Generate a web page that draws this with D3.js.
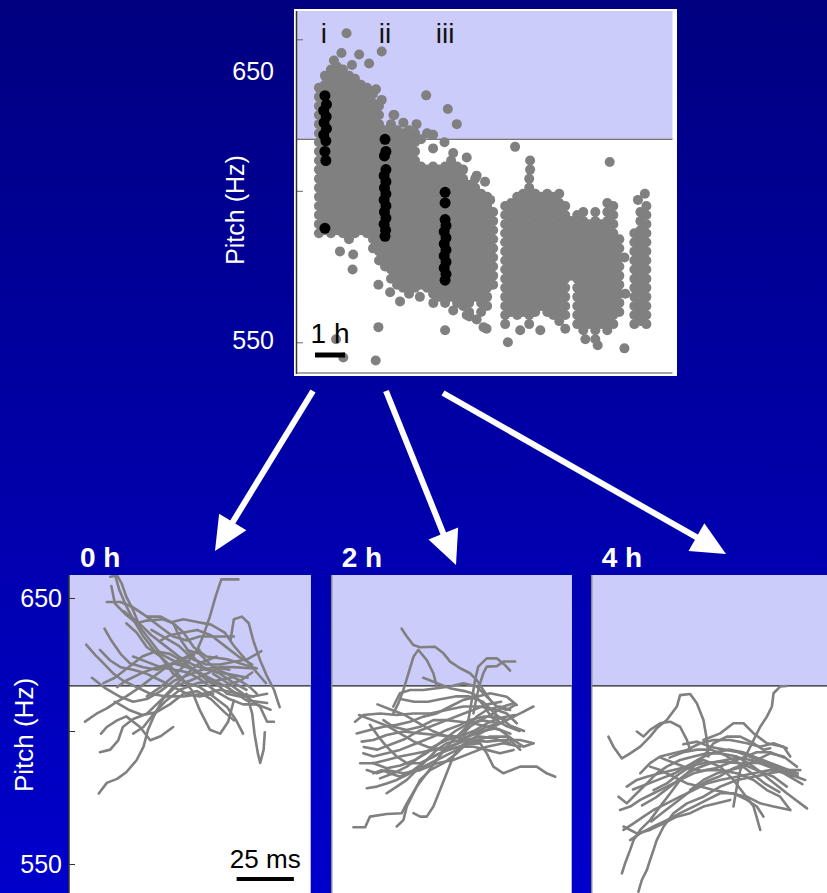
<!DOCTYPE html>
<html>
<head>
<meta charset="utf-8">
<script src="https://cdn.jsdelivr.net/npm/d3@7"></script>
<style>
  html, body { margin: 0; padding: 0; overflow: hidden; background: #000080; }
  text { font-family: "Liberation Sans", Arial, sans-serif; }
</style>
</head>
<body>
<script>
// ---------- Pitch over time (top scatter) ----------
// song pitch (Hz) per recording time (hours), grouped by time column
const dotColumns = [
  [-0.2, [634,631,628,625,622,619,616,613,610,607,604,601,598,595,592,589,586]],
  [0.0,  [638,635,632,629,626,623,620,617,614,611,608,605,602,599,596,593,590,587]],
  [0.2,  [640,637,634,631,628,625,622,619,616,613,610,607,604,601,598,595,592,589,586]],
  [0.4,  [641,638,635,632,629,626,623,620,617,614,611,608,605,602,599,596,593,590,587]],
  [0.6,  [640,637,634,631,628,625,622,619,616,613,610,607,604,601,598,595,592,589,586]],
  [0.8,  [638,635,632,629,626,623,620,617,614,611,608,605,602,599,596,593,590,587,584]],
  [1.0,  [637,634,631,628,625,622,619,616,613,610,607,604,601,598,595,592,589,586]],
  [1.2,  [635,632,629,626,623,620,617,614,611,608,605,602,599,596,593,590,587]],
  [1.4,  [634,631,628,625,622,619,616,613,610,607,604,601,598,595,592,589,586]],
  [1.6,  [632,629,626,623,620,617,614,611,608,605,602,599,596,593,590,587,584,581]],
  [1.8,  [628,625,622,619,616,613,610,607,604,601,598,595,592,589,586,583,580,577]],
  [2.0,  [620,617,614,611,608,605,602,599,596,593,590,587,584,581,578,575]],
  [2.2,  [622,619,616,613,610,607,604,601,598,595,592,589,586,583,580,577,574,571]],
  [2.4,  [620,617,614,611,608,605,602,599,596,593,590,587,584,581,578,575,572,569]],
  [2.6,  [619,616,613,610,607,604,601,598,595,592,589,586,583,580,577,574,571,568]],
  [2.8,  [620,617,614,611,608,605,602,599,596,593,590,587,584,581,578,575,572,569,566]],
  [3.0,  [619,616,613,610,607,604,601,598,595,592,589,586,583,580,577,574,571,568]],
  [3.2,  [617,608,605,602,599,596,593,590,587,584,581,578,575,572,569]],
  [3.4,  [619,607,604,601,598,595,592,589,586,583,580,577,574,571,568]],
  [3.6,  [614,608,605,602,599,596,593,590,587,584,581,578,575,572,569,566]],
  [3.8,  [607,604,601,598,595,592,589,586,583,580,577,574,571,568,565]],
  [4.0,  [608,605,602,599,596,593,590,587,584,581,578,575,572,569,566,563]],
  [4.2,  [610,607,604,601,598,595,592,589,586,583,580,577,574,571,568,565]],
  [4.4,  [608,605,602,599,596,593,590,587,584,581,578,575,572,569,566,563]],
  [4.6,  [607,604,601,598,595,592,589,586,583,580,577,574,571,568,565,562]],
  [4.8,  [602,599,596,593,590,587,584,581,578,575,572,569,566,563,560]],
  [5.0,  [604,601,598,595,592,589,586,583,580,577,574,571,568,565]],
  [5.2,  [599,596,593,590,587,584,581,578,575,572,569,566,563,560]],
  [5.4,  [598,595,592,589,586,583,580,577,574,571,568,565,562]],
  [5.6,  [593,590,587,584,581,578,575,572,569]],
  [6.0,  [595,592,589,586,583,580,577,574,571,568,565,562,559,556]],
  [6.2,  [596,593,590,587,584,581,578,575,572,569,566,563,560]],
  [6.4,  [598,595,592,589,586,583,580,577,574,571,568,565,562,559]],
  [6.6,  [599,596,593,590,587,584,581,578,575,572,569,566,563,560]],
  [6.8,  [604,601,598,595,592,589,586,583,580,577,574,571,568,565,562,559,556]],
  [7.0,  [599,596,593,590,587,584,581,578,575,572,569,566,563,560]],
  [7.2,  [598,595,592,589,586,583,580,577,574,571,568,565,562]],
  [7.4,  [599,596,593,590,587,584,581,578,575,572,569,566,563,560]],
  [7.6,  [598,595,592,589,586,583,580,577,574,571,568,565,562,559]],
  [7.8,  [599,596,593,590,587,584,581,578,575,572,569,566,563,560,557]],
  [8.0,  [595,592,589,586,583,580,577,574,571,568,565,562,559]],
  [8.2,  [590,587,584,581,578,575,572]],
  [8.4,  [592,589,586,583,580,577,574,571,568,565,562,559,556]],
  [8.6,  [593,590,587,584,581,578,575,572,569,566,563,560,557,554]],
  [8.8,  [589,586,583,580,577,574,571,568,565,562,559,556]],
  [9.0,  [593,590,587,584,581,578,575,572,569,566,563,560,557,554,551]],
  [9.2,  [589,586,583,580,577,574,571,568,565,562,559,556]],
  [9.4,  [596,593,590,587,584,581,578,575,572,569,566,563,560,557,554]],
  [9.6,  [595,592,589,586,583,580,577,574,571,568,565,562,559,556]],
  [9.8,  [584,581,578,575,572,569,566,563,560]],
  [10.3, [586,583,580,577,574,571,568,565,562,559,556]],
  [10.5, [593,590,587,584,581,578,575,572,569,566,563,560,557]],
  [10.7, [595,592,589,586,583,580,577,574,571,568,565,562,559,556]]
];

// isolated songs and edge songs [hours, Hz]
const strayDots = [
  [0.72,652],[1.14,645],[1.89,646],[1.47,642],[3.37,631.5],[4.09,627],[4.39,622],
  [6.33,614.5],[6.83,610],[9.48,609.5],[10.65,599],[10.42,597],[1.78,555],[4.0,554],
  [1.69,544],[0.61,545],[0.37,551],[9.97,548],[6.09,550],[9.08,549],[8.67,551],
  [0.92,574],[0.5,580],[0.94,579],[1.78,569],[2.17,566.5],[2.5,563.5],[4.81,558.5],
  [5.28,555],[9.97,578],[1.7,633.5],[1.89,630],[2.31,625],[2.61,622.5],[3.55,618.5],
  [3.98,616],[6.83,607],[10.0,566],[8.0,554.5],[7.17,554],[6.5,554],
  [1.61,633],[1.36,630.5],[2.28,625],[3.05,622],[3.6,618.5],[4.27,612.5],[4.72,611],
  [5.05,605],[5.33,603],[5.5,597],[5.55,593],[3.16,565],[3.61,563],[4.27,560.5],
  [4.72,559],[5.05,557.5],[5.38,554.5],[0.3,643],[0.55,645.5],[0.9,641.5]
];

// songs sampled below (i, ii, iii) [hours, Hz]
const sampleI = [[0,631.4],[0.05,628.5],[-0.04,626.5],[0.04,624.5],[-0.03,622.5],[0.05,620.5],[-0.04,618.5],[0.03,616.5],[0,613],[0.03,610],[0,587.6]];
const sampleII = [[2,617],[2.03,613],[1.98,611.5],[2.03,607],[1.97,605],[2.03,603],[1.98,601],[2.03,599],[1.97,597],[2.03,595],[1.98,593],[2.03,591],[1.97,589],[2.02,587],[2,585]];
const sampleIII = [[4,599.5],[4,596],[4,590.5],[4.03,588.5],[3.97,586.5],[4.03,584.5],[3.97,582.5],[4.03,580.5],[3.97,578.5],[4.03,576.5],[3.97,574.5],[4.03,572.5],[4,570.5]];

const sampleTimes = [0, 2, 4];
const sampleNames = ["i", "ii", "iii"];
const pitchTicks = [550, 600, 650];
const threshold = 617;   // pitch above which songs fall in the shaded band

// ---------- Pitch contours (bottom) [ms, Hz] ----------
const traces0h = [
  [[20,659],[22,653],[25,647],[28,642],[32.5,635.5],[37,630.5],[43,625.5],[48.5,620.5],[53.5,615.5],[57,608],[61.5,600.5],[66,599],[69.5,603.5],[72,611.5]],
  [[18.5,654.5],[20,648],[24.5,644],[29.5,640.5],[34,641.5],[41,642],[45.5,640.5],[49,634],[53,629],[58.5,624],[66,621.5],[72,618],[77.5,615.5]],
  [[34,613],[40,616.5],[45.5,620.5],[51.5,625.5],[56,630.5],[58.5,635.5],[61.5,643],[64,650.5],[66.5,657],[74,657]],
  [[70.5,634],[72,642],[75.5,643],[78.5,640.5],[80.5,634],[83.5,626.5],[86.5,620.5],[89.5,615.5],[92,609]],
  [[13,576.5],[16.5,580.5],[21,582],[25,584.5],[29.5,589],[32.5,594],[34.5,600.5],[37,605.5],[41,612],[47,617],[53,619],[60,621.5],[66,624],[72,624],[80.5,623.5]],
  [[13.5,592],[18,593],[21.5,596.5],[23.5,601.5],[28,604.5],[34,606.5],[40,611.5],[45.5,616.5],[51.5,621.5],[57,625.5],[64.5,628]],
  [[7,603.5],[12,606.5],[16.5,608.5],[20,610.5],[25,613],[31,616.5],[37,620.5],[42.5,624],[48.5,626.5],[54.5,628.5]],
  [[7.5,632.5],[11.5,628.5],[15,625.5],[19.5,621.5],[23.5,619],[29.5,616.5],[35.5,614],[42.5,613],[50,613],[58.5,614],[66,615.5],[74.5,614],[80.5,613]],
  [[15.5,638.5],[18.5,634],[22.5,629],[26.5,625.5],[32.5,624],[38.5,623],[45.5,625.5],[51.5,628],[57,630.5]],
  [[14,599],[16.5,601.5],[21,604],[25,605.5],[31,601.5],[35.5,596.5],[40,598],[45.5,601.5]],
  [[77.5,614],[80,606.5],[81,599],[82.5,591.5],[83.5,588],[85,593],[85.5,599.5]],
  [[16.5,648.5],[22.5,648.5],[28,646.5],[34,643],[40,639],[45.5,635.5],[51.5,634],[57,635.5],[64.5,635.5],[72,635.5]],
  [[18,658],[21,658.5],[23,655.5],[25,650.5],[28,645.5],[31,639],[35.5,634],[40,629],[45.5,626.5],[53,624],[60,620.5],[69,616.5],[77.5,611.5],[86.5,610.5]],
  [[34,643],[40,643],[45.5,640.5],[50,637],[54.5,631.5],[60,628],[69,627],[74.5,625.5],[82,623.5]],
  [[63,621.5],[67.5,619],[72,616.5],[77.5,613],[83.5,609],[86.5,603.5],[89.5,603.5]],
  [[28,599],[32.5,601.5],[37,606.5],[42.5,611.5],[48.5,615.5],[56,618],[64.5,619],[73,620.5]],
  [[21,616.5],[25,619],[31,621.5],[38.5,624],[45.5,625.5],[51.5,624],[57,621.5],[63,619],[69,614],[74.5,613],[80.5,613],[86.5,614]],
  [[51.5,630.5],[57,629],[63,624],[69,621.5],[74.5,619],[79,616.5],[82,614]],
  [[13.5,630.5],[18,626.5],[22.5,624],[28,623],[34,621.5],[40,619],[45.5,616.5],[51.5,614],[57,613],[63,614]],
  [[25,640.5],[29.5,637],[34,631.5],[40,628],[45.5,621.5],[51.5,618],[57,616.5],[63,613],[69,609],[73,604],[76,599]],
  [[15,618],[20,620],[26,624],[32,628],[38,630],[44,629],[50,626],[56,622],[62,618],[68,617],[75,619],[80,622]],
  [[24,645],[30,641],[36,636],[42,632],[48,628],[54,625],[60,623],[66,622],[72,621],[78,620]],
  [[28,628],[34,626],[40,624],[46,623],[52,622],[58,619],[64,615],[70,612],[76,610],[82,610],[88,608]],
  [[36,638],[42,635],[48,632],[54,627],[60,625],[66,625],[72,626],[78,627],[84,630]],
  [[10,620],[16,616],[22,613],[28,611],[34,612],[40,615],[46,619],[52,621],[58,623],[64,624],[70,623]],
  [[40,634],[44,636],[50,637],[56,638],[62,636],[68,632],[74,628],[80,625]],
  [[20,611],[26,608],[32,606],[38,607],[44,610],[50,614],[56,615],[62,612],[68,607],[72,604]],
  [[45,641],[50,642],[56,641],[62,640],[68,637],[72,632],[76,628],[82,622],[86,618]]
];

const traces2h = [
  [[30.5,638.5],[32.8,635.5],[35.7,632.3],[38.6,631.5],[45.1,631.7],[48.8,629.2],[51.7,626.1],[56.1,623.6],[60.4,621.7],[63.3,619.2],[66.2,615.4],[69.2,611.7]],
  [[26.9,606.6],[29.1,610.4],[31.3,615.4],[33.5,621.7],[35.7,627.9],[37.8,630.5],[41.5,626.7],[44.4,621.7],[45.9,616.7]],
  [[61.9,606.6],[63.3,612.9],[64.8,617.9],[66.2,621.7],[67.7,624.2],[72.1,624.4],[75,626.1],[80.1,626.1]],
  [[57.5,596.6],[59.7,604.1],[61.2,611.7],[62.6,619.2],[64,624.2],[67.7,627.3],[72.1,627.3],[75.7,624.8],[77.9,622.7]],
  [[9.5,563.8],[14.6,563.8],[16.7,567.8],[24,568.8],[30.6,569.1],[32.8,572.8],[37.1,579.1],[41.5,584.1],[45.9,589.1],[50.2,594.1],[54.6,597.9],[59,601.6],[63.3,605.4],[67.7,607.9],[73.5,609.2],[77.9,607.9]],
  [[28.4,564.1],[31.3,566.5],[32.8,571.6],[35.7,576.6],[38.6,581.6],[43,585.3],[48.8,587.9],[54.6,591.6],[59,595.4],[64.8,599.1],[70.6,601.6],[76.4,604.1],[82.3,606.6],[88.1,609.2]],
  [[35.7,569.1],[38.6,567.8],[41.5,567.8],[44.4,571.6],[47.3,577.8],[50.2,584.1],[53.1,590.4],[56.1,594.1],[60.4,596.6],[64.8,595.4],[67.7,591.6],[70.6,586.6],[75,584.1],[82.3,586.6],[89.5,586.6],[93.9,584.1],[97.6,582.8]],
  [[10.2,603.5],[13.8,606],[21.1,606.6],[28.4,606],[35.7,606.6],[43,606.6],[50.2,607.9],[57.5,609.2],[64.8,609.2],[72.1,607.9],[76.4,606.6],[80.8,602.9]],
  [[13.1,596],[18.2,596.6],[24,598.5],[31.3,599.8],[38.6,599.1],[45.9,598.5],[53.1,597.9],[60.4,596.6],[67.7,596],[75,596.6],[82.3,596.6],[88.1,595.4]],
  [[12.4,587.9],[18.2,587.9],[24,589.1],[29.8,590.4],[37.1,591.6],[44.4,592.9],[51.7,594.1],[59,596.6],[64.8,597.9],[70.6,597.3],[77.9,595.4]],
  [[15.3,578.5],[19.7,579.1],[24,580.3],[28.4,581.6],[34.2,584.1],[40,586.6],[45.9,589.1],[51.7,591.6],[57.5,594.1],[63.3,596.6],[69.2,597.9],[76.4,597.9],[82.3,592.9]],
  [[16.7,602.3],[20.4,597.9],[24,594.1],[28.4,590.4],[32.8,587.9],[38.6,587.9],[44.4,590.4],[50.2,592.9],[56.1,594.1],[61.9,594.1],[67.7,592.9],[73.5,591.6],[79.4,592.9]],
  [[18.2,584.1],[21.8,585.3],[25.5,584.1],[29.8,582.8],[35.7,585.3],[41.5,589.1],[47.3,591.6],[53.1,593.5],[59,594.8],[64.8,595.4]],
  [[26.9,609.2],[29.8,614.2],[34.2,615.4],[40,615.4],[45.9,616.1],[51.7,616.7],[57.5,617.9],[63.3,616.7],[67.7,612.9],[72.1,609.2],[76.4,607.9],[80.1,609.8]],
  [[22.6,604.1],[26.9,601.6],[32.8,600.4],[38.6,601.6],[44.4,604.1],[50.2,604.1],[56.1,603.5],[61.9,602.9],[67.7,601.6],[73.5,600.4],[79.4,596.6],[83.7,594.1],[88.1,595.4]],
  [[13.8,591.6],[18.2,590.4],[24,591.6],[29.8,592.9],[37.1,595.4],[44.4,597.9],[50.2,600.4],[56.1,602.3],[60.4,604.1],[66.2,605.4],[72.1,605.4],[76.4,604.1]],
  [[21.1,582.2],[26.9,584.1],[32.8,586.6],[38.6,590.4],[44.4,594.1],[50.2,596.6],[56.1,597.9],[60.4,601.6],[64.8,604.1],[70.6,606.6],[75,609.2],[79.4,610.4]],
  [[24,576.6],[28.4,579.1],[32.8,581.6],[37.1,585.3],[41.5,589.1],[45.9,592.9],[50.2,595.4],[56.1,596.6],[61.9,599.1],[67.7,601.6],[73.5,602.9]],
  [[10.9,599.1],[16.7,600.4],[22.6,601.6],[28.4,602.3],[34.2,603.5],[40,605.4],[45.9,606.6],[51.7,609.2],[57.5,611.7],[63.3,612.9],[69.2,614.2],[76.4,612.9],[80.8,609.8]],
  [[15.3,585.3],[19.7,584.1],[24,585.3],[31.3,584.1],[38.6,585.3],[45.9,587.9],[53.1,589.1],[60.4,591.6],[67.7,594.1],[75,595.4],[82.3,594.1]],
  [[12,606],[18,604],[24,602],[30,599],[36,596],[42,594],[48,593],[54,595],[60,598],[66,600],[72,601],[78,599]],
  [[20,610],[26,608],[32,606],[38,603],[44,600],[50,598],[56,598],[62,600],[68,603],[74,605],[80,606]],
  [[14,594],[20,593],[26,595],[32,597],[38,600],[44,602],[50,604],[56,606],[62,608],[68,610],[74,611]],
  [[30,612],[36,611],[42,611],[48,612],[54,613],[60,613],[66,611],[72,606],[78,602],[84,600]],
  [[18,588],[24,586],[30,587],[36,589],[42,592],[48,596],[54,600],[60,603],[66,604],[72,603]],
  [[40,620],[46,618],[52,616],[58,615],[62,614],[66,610],[70,605],[76,602],[82,600]]
];

const traces4h = [
  [[61.9,571.6],[63.4,579.1],[64.9,585.3],[67.8,591.6],[70.7,596.6],[73.6,601.6],[76.5,605.4],[78.7,609.2],[79.4,614.2],[82.3,616.7],[85.2,616.9]],
  [[7.3,597.9],[9.5,594.1],[13.2,589.7],[16.8,591.6],[21.2,594.1],[25.5,597.9],[28.4,601],[32.8,604.1],[37.2,609.2],[38.6,613.5],[43,613.9],[45.9,610.4],[48.8,604.1],[50.3,596.6],[51,590.4]],
  [[19.7,599.8],[22.6,597.9],[25.5,600.4],[29.9,602.9],[34.3,603.5],[38.6,601.6],[41.6,596.6],[43,592.9]],
  [[13.2,546.5],[14.6,550.3],[16.8,555.3],[18.3,559],[21.2,562.8],[25.5,566.5],[29.9,571.6],[34.3,576.6],[38.6,581.6],[43,585.3],[48.8,590.4],[53.2,595.4],[59,597.9],[64.9,597.9],[70.7,595.4],[75,592.9],[77.9,593.5]],
  [[20.4,539.6],[21.9,544],[24.1,547.8],[25.5,551.5],[27,555.3],[28.4,559],[31.4,564.1],[35.7,569.1],[41.6,572.8],[48.8,575.3],[56.1,579.1],[63.4,581.6],[70.7,582.8],[77.9,584.1],[85.2,585.3],[91.1,585.3]],
  [[11.7,575.3],[15.3,572.8],[19.7,576.6],[24.1,580.3],[28.4,584.1],[32.8,586.6],[38.6,589.1],[44.5,590.4],[50.3,591.6],[56.1,591.6],[63.4,590.4],[70.7,586.6],[77.9,581.6],[85.2,576.6],[94,570.9]],
  [[12.4,570.3],[16.8,571.6],[21.2,574.1],[27,576.6],[32.8,579.1],[38.6,581.6],[44.5,584.1],[50.3,585.3],[56.1,585.3],[63.4,584.1],[70.7,581.6],[76.5,577.8],[82.3,575.3],[86.7,570.3]],
  [[13.9,562.8],[18.3,565.3],[22.6,567.8],[27,570.3],[32.8,572.8],[38.6,575.3],[44.5,577.8],[50.3,580.3],[56.1,581.6],[63.4,582.8],[70.7,584.1],[77.9,585.3],[85.2,584.1],[93.2,581.6]],
  [[21.2,584.1],[25.5,587.9],[29.9,590.4],[35.7,591.6],[41.6,592.9],[47.4,595.4],[53.2,596.6],[60.5,596.6],[67.8,595.4],[73.6,594.1],[79.4,595.4],[85.2,593.5]],
  [[15.3,579.1],[19.7,581.6],[24.1,582.8],[29.9,584.1],[35.7,585.3],[41.6,586.6],[48.8,587.9],[56.1,588.5],[64.9,587.9],[72.1,585.3],[79.4,582.8],[85.2,579.1]],
  [[16.8,559],[21.2,561.5],[27,564.1],[32.8,566.5],[38.6,569.1],[44.5,571.6],[50.3,574.1],[56.1,576.6],[61.9,576.6],[67.8,574.1],[72.1,571.6],[75,567.8]],
  [[27,577.8],[32.8,580.3],[38.6,584.1],[43,586.6],[48.8,589.1],[56.1,586.6],[61.9,581.6],[66.3,576.6],[70.7,571.6],[73.6,562.8]],
  [[43,577.8],[48.8,581.6],[54.7,584.1],[60.5,585.3],[66.3,586.6],[72.1,589.1],[77.9,591.6],[83.8,590.4],[89.6,586.6]],
  [[25.5,586.6],[29.9,585.3],[35.7,582.8],[41.6,580.3],[47.4,579.1],[53.2,577.8],[60.5,576.6],[67.8,575.3],[73.6,572.8],[79.4,571.6],[86.7,570.3]],
  [[13.9,564.1],[19.7,561.5],[25.5,562.8],[31.4,565.3],[37.2,567.8],[43,569.1],[48.8,571.6],[54.7,572.8],[60.5,574.1]],
  [[48.8,596.6],[56.1,599.1],[61.9,602.9],[66.3,602.9],[70.7,599.1],[76.5,595.4],[83.8,594.1],[86.7,590.4]],
  [[18,578],[24,580],[30,582],[36,584],[42,587],[48,590],[54,592],[60,593],[66,592],[72,590],[78,588],[84,586],[90,584]],
  [[22,572],[28,575],[34,579],[40,583],[46,586],[52,588],[58,589],[64,590],[70,589],[76,587],[82,585],[88,583]],
  [[30,590],[36,588],[42,586],[48,585],[54,586],[60,588],[66,590],[72,592],[78,592],[84,590]],
  [[26,566],[32,570],[38,574],[44,578],[50,581],[56,583],[62,586],[68,588],[74,588],[80,586],[86,583],[92,580]],
  [[40,595],[46,596],[52,594],[58,593],[64,592],[70,590],[76,588],[82,586],[90,583]],
  [[34,590],[40,592],[46,593],[52,593],[58,591],[64,588],[70,584],[76,580],[82,577]]
];

const panelTitles = ["0 h", "2 h", "4 h"];
const panelTraces = [traces0h, traces2h, traces4h];

// ---------- drawing ----------
const W = 827, H = 893;
const svg = d3.select("body").append("svg").attr("width", W).attr("height", H);
const defs = svg.append("defs");

const bg = defs.append("linearGradient").attr("id", "bg")
  .attr("x1", 0).attr("y1", 0).attr("x2", 0).attr("y2", 1);
bg.append("stop").attr("offset", "0%").attr("stop-color", "#000080");
bg.append("stop").attr("offset", "100%").attr("stop-color", "#0000cc");
svg.append("rect").attr("width", W).attr("height", H).attr("fill", "url(#bg)");

const LAV = "#ccccfa", GREY = "#808080";

// ----- top scatter -----
const tp = { left: 297, right: 672.5, top: 11, bottom: 373 };
const xT = d3.scaleLinear().domain([-0.93, 11.57]).range([tp.left, tp.right]);
const yT = d3.scaleLinear().domain([550, 650]).range([342.3, 39.3]);

svg.append("rect").attr("x", 294).attr("y", 9).attr("width", 383).attr("height", 367).attr("fill", "#fff");
svg.append("rect").attr("x", tp.left).attr("y", tp.top)
  .attr("width", tp.right - tp.left).attr("height", yT(threshold) - tp.top).attr("fill", LAV);
svg.append("line").attr("x1", tp.left).attr("x2", tp.right)
  .attr("y1", yT(threshold)).attr("y2", yT(threshold)).attr("stroke", "#555").attr("stroke-width", 1);

defs.append("clipPath").attr("id", "clipTop").append("rect")
  .attr("x", tp.left).attr("y", tp.top).attr("width", tp.right - tp.left).attr("height", tp.bottom - tp.top);

const allDots = dotColumns.flatMap(([h, ps]) => ps.map(p => [h, p])).concat(strayDots);
const gDots = svg.append("g").attr("clip-path", "url(#clipTop)");
gDots.selectAll("circle.song").data(allDots).join("circle").attr("class", "song")
  .attr("cx", d => xT(d[0])).attr("cy", d => yT(d[1])).attr("r", 5).attr("fill", GREY);
gDots.selectAll("circle.sample").data(sampleI.concat(sampleII, sampleIII)).join("circle").attr("class", "sample")
  .attr("cx", d => xT(d[0])).attr("cy", d => yT(d[1])).attr("r", 5.5).attr("fill", "#000");

// sample labels
svg.selectAll("text.sname").data(sampleTimes).join("text").attr("class", "sname")
  .attr("x", (d, i) => xT(d) + (i === 0 ? -1 : 0)).attr("y", 43)
  .attr("text-anchor", "middle").attr("font-size", 28).attr("fill", "#111")
  .text((d, i) => sampleNames[i]);

// y axis: inward ticks
const axT = svg.append("g").attr("transform", `translate(${tp.left},0)`)
  .call(d3.axisRight(yT).tickValues(pitchTicks).tickSize(6).tickSizeOuter(0).tickFormat(""));
axT.select(".domain").remove();
axT.selectAll(".tick line").attr("stroke", "#666");
svg.append("line").attr("x1", tp.left - 0.5).attr("x2", tp.left - 0.5).attr("y1", tp.top).attr("y2", tp.bottom + 1)
  .attr("stroke", "#333").attr("stroke-width", 1.5);
svg.append("line").attr("x1", tp.left).attr("x2", tp.right).attr("y1", tp.bottom).attr("y2", tp.bottom)
  .attr("stroke", "#888").attr("stroke-width", 1.5);

// time scale bar: 1 h
const barStart = -0.33;
svg.append("line").attr("x1", xT(barStart)).attr("x2", xT(barStart + 1)).attr("y1", 355).attr("y2", 355)
  .attr("stroke", "#000").attr("stroke-width", 5);
svg.append("text").attr("x", xT(barStart + 0.5)).attr("y", 343).attr("text-anchor", "middle")
  .attr("font-size", 28).attr("fill", "#000").text("1 h");

// slide labels for top panel
svg.append("text").attr("x", 274).attr("y", 71).attr("dy", "0.35em").attr("text-anchor", "end")
  .attr("font-size", 25).attr("fill", "#fff").text("650");
svg.append("text").attr("x", 274).attr("y", 340).attr("dy", "0.35em").attr("text-anchor", "end")
  .attr("font-size", 25).attr("fill", "#fff").text("550");
svg.append("text").attr("transform", "translate(235,210) rotate(-90)").attr("dy", "0.35em")
  .attr("text-anchor", "middle").attr("font-size", 25).attr("fill", "#fff").text("Pitch (Hz)");

// ----- arrows -----
const arrows = [
  { from: [313, 391], to: [215, 551] },
  { from: [386, 391], to: [456, 565] },
  { from: [443, 393], to: [726, 554] }
];
arrows.forEach(a => {
  const dx = a.to[0] - a.from[0], dy = a.to[1] - a.from[1];
  const len = Math.hypot(dx, dy), ux = dx / len, uy = dy / len;
  const L = 34, w = 16;
  const bx = a.to[0] - ux * L, by = a.to[1] - uy * L;
  svg.append("line").attr("x1", a.from[0]).attr("y1", a.from[1]).attr("x2", bx + ux * 2).attr("y2", by + uy * 2)
    .attr("stroke", "#fff").attr("stroke-width", 6);
  svg.append("polygon")
    .attr("points", [[a.to[0], a.to[1]], [bx - uy * w, by + ux * w], [bx + uy * w, by - ux * w]].map(p => p.join(",")).join(" "))
    .attr("fill", "#fff");
});

// ----- bottom contour panels -----
const bp = { top: 575, bottom: 893 };
const panelLeft = [69, 331.7, 591.7];
const panelRight = [310.7, 571.7, 830];
const msSpan = 105, pxPerMs = 2.29;
const yB = d3.scaleLinear().domain([550, 650]).range([864, 598]);

panelTitles.forEach((title, i) => {
  const L = panelLeft[i], R = panelRight[i];
  const xB = d3.scaleLinear().domain([0, msSpan]).range([L, L + msSpan * pxPerMs]);
  svg.append("rect").attr("x", L).attr("y", bp.top).attr("width", R - L).attr("height", bp.bottom - bp.top).attr("fill", "#fff");
  svg.append("rect").attr("x", L).attr("y", bp.top).attr("width", R - L).attr("height", yB(threshold) - bp.top).attr("fill", LAV);
  svg.append("line").attr("x1", L).attr("x2", R).attr("y1", yB(threshold)).attr("y2", yB(threshold))
    .attr("stroke", "#222").attr("stroke-width", 1.2);

  defs.append("clipPath").attr("id", "clipB" + i).append("rect")
    .attr("x", L).attr("y", bp.top).attr("width", R - L).attr("height", bp.bottom - bp.top);
  const line = d3.line().x(d => xB(d[0])).y(d => yB(d[1]));
  svg.append("g").attr("clip-path", `url(#clipB${i})`)
    .selectAll("path").data(panelTraces[i]).join("path")
    .attr("d", line).attr("fill", "none").attr("stroke", GREY)
    .attr("stroke-width", 2.6).attr("stroke-linejoin", "round").attr("stroke-linecap", "round");

  svg.append("line").attr("x1", L).attr("x2", L).attr("y1", bp.top).attr("y2", bp.bottom)
    .attr("stroke", i === 0 ? "#333" : "#888").attr("stroke-width", 1.5);

  svg.append("text").attr("x", L + (i === 0 ? 11 : 10)).attr("y", 567)
    .attr("font-size", 28).attr("font-weight", "bold").attr("fill", "#fff").text(title);

  if (i === 0) {
    const ax = svg.append("g").attr("transform", `translate(${L},0)`)
      .call(d3.axisRight(yB).tickValues(pitchTicks).tickSize(6).tickSizeOuter(0).tickFormat(""));
    ax.select(".domain").remove();
    ax.selectAll(".tick line").attr("stroke", "#333");
    // 25 ms scale bar
    const t0 = 73.2;
    svg.append("line").attr("x1", xB(t0)).attr("x2", xB(t0 + 25)).attr("y1", 879).attr("y2", 879)
      .attr("stroke", "#000").attr("stroke-width", 4);
    svg.append("text").attr("x", xB(t0 + 12.5)).attr("y", 868).attr("text-anchor", "middle")
      .attr("font-size", 26).attr("fill", "#000").text("25 ms");
  }
});

// slide labels for bottom panels
[650, 550].forEach(v => {
  svg.append("text").attr("x", 62).attr("y", yB(v)).attr("dy", "0.35em").attr("text-anchor", "end")
    .attr("font-size", 25).attr("fill", "#fff").text(v);
});
svg.append("text").attr("transform", "translate(24,735) rotate(-90)").attr("dy", "0.35em")
  .attr("text-anchor", "middle").attr("font-size", 26).attr("fill", "#fff").text("Pitch (Hz)");
</script>
</body>
</html>
